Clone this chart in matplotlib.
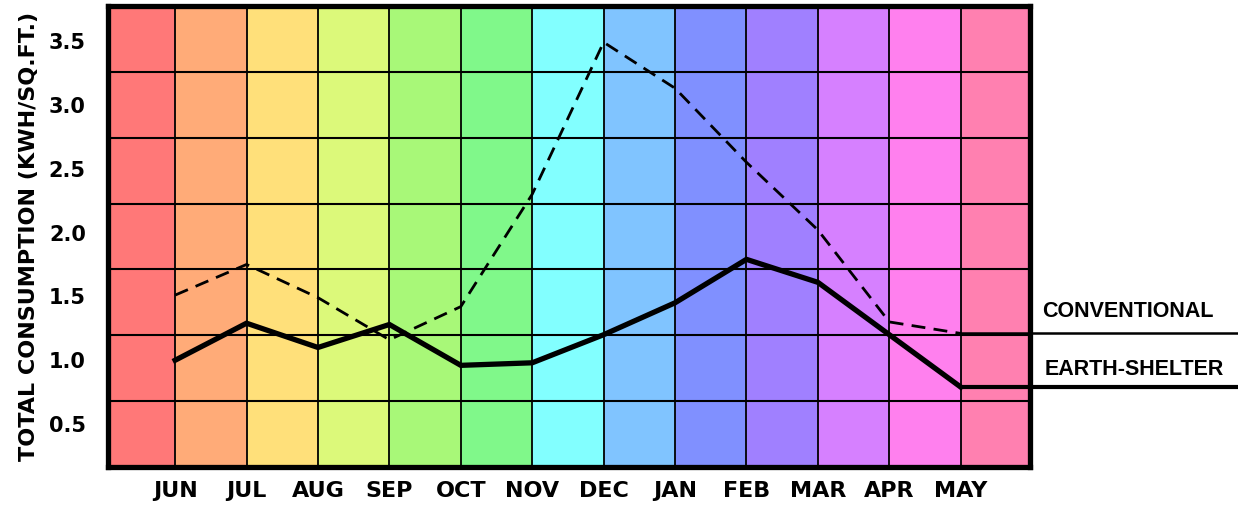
import matplotlib
matplotlib.use("Agg")
import matplotlib.pyplot as plt
import matplotlib.transforms as mtransforms
import numpy as np

# data
months = ["JUN", "JUL", "AUG", "SEP", "OCT", "NOV", "DEC", "JAN", "FEB", "MAR", "APR", "MAY"]
conventional = [1.51, 1.75, 1.49, 1.16, 1.42, 2.30, 3.49, 3.13, 2.55, 2.02, 1.30, 1.21]
earth_shelter = [1.00, 1.29, 1.10, 1.28, 0.96, 0.98, 1.20, 1.45, 1.79, 1.61, 1.20, 0.79]
ytick_values = [0.5, 1.0, 1.5, 2.0, 2.5, 3.0, 3.5]
band_colors = ["#FF7878", "#FFAB78", "#FFE07A", "#DCF97A", "#A8F878", "#80F88A", "#82FFFF",
               "#80C4FF", "#8090FF", "#A080FF", "#D680FF", "#FF80EE", "#FF80B0"]

fig = plt.figure(figsize=(12.38, 5.05), dpi=100)
ax = fig.add_axes([108 / 1238, 38 / 505, 922 / 1238, 461 / 505])

x = np.arange(len(months))
ax.set_xlim(-0.94, 11.97)
ax.set_ylim(0.164, 3.774)

# coloured month columns (one between each pair of gridlines)
edges = np.arange(-1, len(months) + 1)
for i, c in enumerate(band_colors):
    ax.axvspan(edges[i], edges[i + 1], color=c, lw=0, zorder=0)

# vertical grid at month positions, horizontal grid splits the box into 7 rows
for xi in x:
    ax.axvline(xi, color="black", lw=1.3, zorder=1)
y0, y1 = ax.get_ylim()
for k in range(1, 7):
    ax.axhline(y0 + k / 7 * (y1 - y0), color="black", lw=1.5, zorder=1)

ax.plot(x, earth_shelter, color="black", lw=3.8, solid_joinstyle="miter", zorder=3)
ax.plot(x, conventional, color="black", lw=2.0, linestyle=(0, (5, 3)), zorder=3)

# leader lines running out to the labels on the right
blend = mtransforms.blended_transform_factory(ax.transAxes, ax.transData)
x0 = (x[-1] - ax.get_xlim()[0]) / (ax.get_xlim()[1] - ax.get_xlim()[0])
x_end = (1238 - 108) / 922 + 0.01
ax.plot([x0, x_end], [conventional[-1]] * 2, color="black", lw=1.8,
        transform=blend, clip_on=False, zorder=3)
ax.plot([x0, x_end], [earth_shelter[-1]] * 2, color="black", lw=3.0,
        transform=blend, clip_on=False, zorder=3)
ax.text(1.0135, conventional[-1] + 0.17, "CONVENTIONAL", transform=blend,
        fontsize=15.5, fontweight="bold", family="Liberation Sans", va="center", ha="left")
ax.text(1.0155, earth_shelter[-1] + 0.14, "EARTH-SHELTER", transform=blend,
        fontsize=15.5, fontweight="bold", family="Liberation Sans", va="center", ha="left")

ax.set_xticks(x)
ax.set_xticklabels(months)
ax.set_yticks(ytick_values)
ax.set_yticklabels([f"{v:.1f}" for v in ytick_values])
ax.tick_params(length=0, labelsize=15, pad=12)
ax.tick_params(axis="x", labelsize=16, pad=10)
ax.tick_params(axis="y", pad=16)
for lbl in ax.get_xticklabels() + ax.get_yticklabels():
    lbl.set_fontweight("bold")
    lbl.set_family("DejaVu Sans")

ax.set_ylabel("TOTAL CONSUMPTION (KWH/SQ.FT.)", fontsize=16, fontweight="bold",
              family="DejaVu Sans", labelpad=7)

for sp in ax.spines.values():
    sp.set_linewidth(3.8)
    sp.set_zorder(4)

fig.savefig("out.png", dpi=100)
